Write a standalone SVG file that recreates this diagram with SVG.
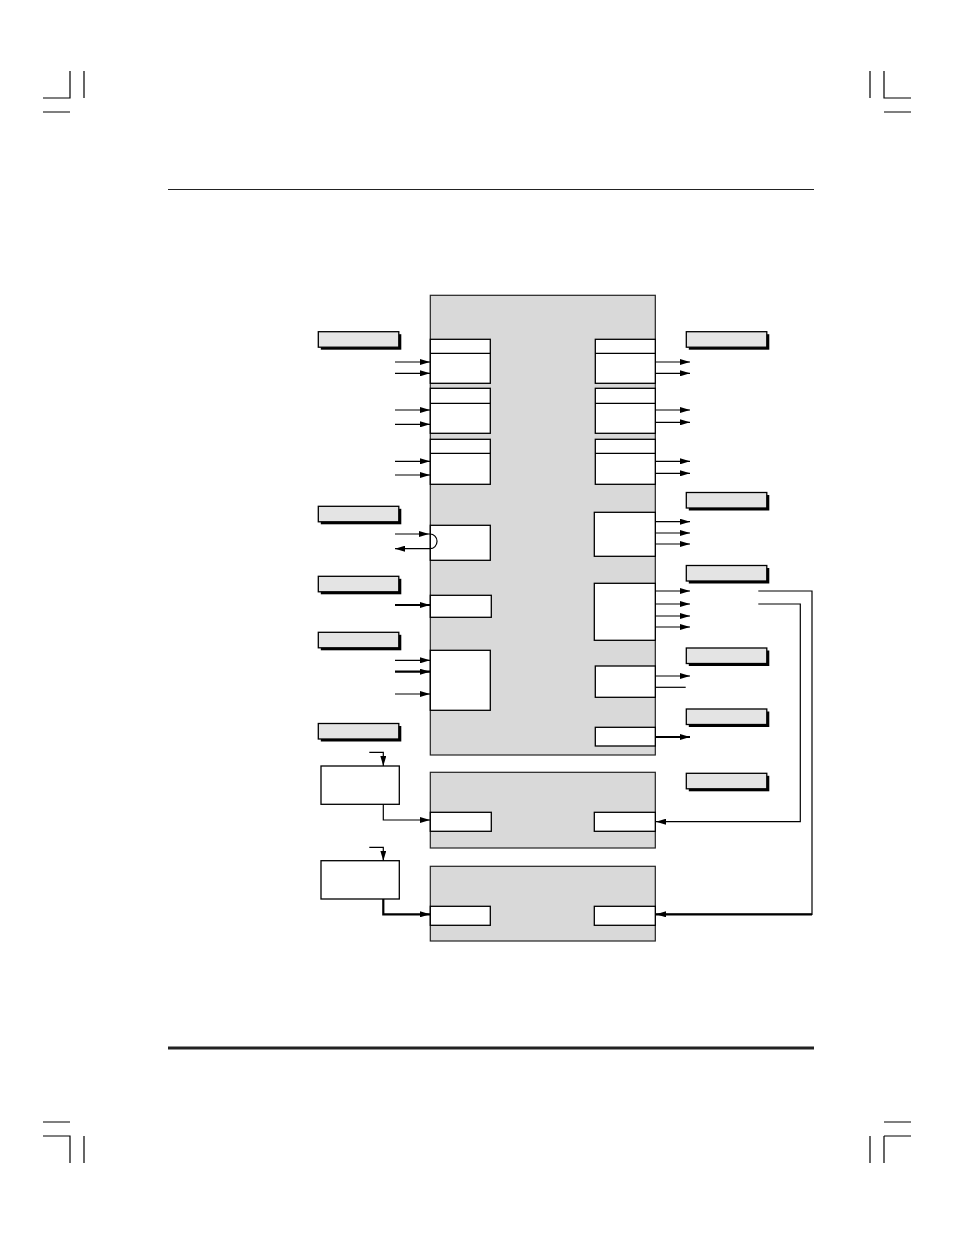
<svg xmlns="http://www.w3.org/2000/svg" width="954" height="1235" viewBox="0 0 954 1235">
<defs>
<style>
.blk{fill:#d9d9d9;stroke:#222;stroke-width:1.2}
.box{fill:#fff;stroke:#000;stroke-width:1.3}
.lbl{fill:#e4e4e4;stroke:#000;stroke-width:1.3}
.sh{fill:#000}
.ln{fill:none;stroke:#000;stroke-width:1.2}
.tk{fill:none;stroke:#000;stroke-width:2.2}
.crop{stroke:#000;stroke-width:1.2;fill:none}
</style>
<marker id="ah" viewBox="0 0 10 6" markerWidth="10" markerHeight="6" refX="10" refY="3" orient="auto" markerUnits="userSpaceOnUse">
<path d="M0,0 L10,3 L0,6 z" fill="#000"/>
</marker>
<g id="lblShape">
<rect class="sh" x="2.5" y="2.5" width="80.5" height="15.5"/>
<rect class="lbl" x="0" y="0" width="80.5" height="15.5"/>
</g>
</defs>
<rect width="954" height="1235" fill="#fff"/>
<g id="page">
<path class="crop" d="M70,71V98H43M84,71V98M43,112H70"/>
<path class="crop" d="M870,71V98M884,71V98H911M884,112H911"/>
<path class="crop" d="M43,1122H70M43,1136H70V1163M84,1136V1163"/>
<path class="crop" d="M884,1122H911M884,1136H911M884,1136V1163M870,1136V1163"/>
<line x1="168" y1="189.5" x2="814" y2="189.5" stroke="#222" stroke-width="1.2"/>
<line x1="168" y1="1048" x2="814" y2="1048" stroke="#222" stroke-width="3"/>
</g>
<g id="main-block">
<rect class="blk" x="430.3" y="295.3" width="225" height="459.7"/>
<rect class="box" x="430.3" y="339.3" width="60" height="44"/><line class="ln" x1="430.3" y1="353.3" x2="490.3" y2="353.3"/>
<rect class="box" x="430.3" y="388.3" width="60" height="45"/><line class="ln" x1="430.3" y1="403.3" x2="490.3" y2="403.3"/>
<rect class="box" x="430.3" y="439.3" width="60" height="45"/><line class="ln" x1="430.3" y1="453.3" x2="490.3" y2="453.3"/>
<rect class="box" x="430.3" y="525.3" width="60" height="35"/>
<rect class="box" x="430.3" y="595.3" width="61" height="22"/>
<rect class="box" x="430.3" y="650.3" width="60" height="60"/>
<rect class="box" x="595.3" y="339.3" width="60" height="44"/><line class="ln" x1="595.3" y1="353.3" x2="655.3" y2="353.3"/>
<rect class="box" x="595.3" y="388.3" width="60" height="45"/><line class="ln" x1="595.3" y1="403.3" x2="655.3" y2="403.3"/>
<rect class="box" x="595.3" y="439.3" width="60" height="45"/><line class="ln" x1="595.3" y1="453.3" x2="655.3" y2="453.3"/>
<rect class="box" x="594.3" y="512.3" width="61" height="44"/>
<rect class="box" x="594.3" y="583.3" width="61" height="57"/>
<rect class="box" x="595.3" y="666" width="60" height="31.3"/>
<rect class="box" x="595.3" y="727.3" width="60" height="18.7"/>
</g>
<g id="sub-block-2">
<rect class="blk" x="430.3" y="772.3" width="225" height="75.7"/>
<rect class="box" x="430.3" y="812.3" width="61" height="19"/>
<rect class="box" x="594.3" y="812.3" width="61" height="19"/>
</g>
<g id="sub-block-3">
<rect class="blk" x="430.3" y="866.3" width="225" height="74.7"/>
<rect class="box" x="430.3" y="906.3" width="60" height="19"/>
<rect class="box" x="594.3" y="906.3" width="61" height="19"/>
</g>
<g id="ext-box-a"><rect class="box" x="321" y="766" width="78.3" height="38.3"/></g>
<g id="ext-box-b"><rect class="box" x="321" y="860.7" width="78.3" height="38.3" stroke-width="2"/></g>
<g id="labels-left">
<use href="#lblShape" x="318.3" y="331.7"/>
<use href="#lblShape" x="318.3" y="506.3"/>
<use href="#lblShape" x="318.3" y="576.3"/>
<use href="#lblShape" x="318.3" y="632.3"/>
<use href="#lblShape" x="318.3" y="723.5"/>
</g>
<g id="labels-right">
<use href="#lblShape" x="686.3" y="331.7"/>
<use href="#lblShape" x="686.3" y="492.5"/>
<use href="#lblShape" x="686.3" y="565.5"/>
<use href="#lblShape" x="686.3" y="648"/>
<use href="#lblShape" x="686.3" y="709"/>
<use href="#lblShape" x="686.3" y="773.3"/>
</g>
<g id="connectors" marker-end="url(#ah)">
<path class="ln" d="M395,362H430"/>
<path class="ln" d="M395,373.3H430"/>
<path class="ln" d="M395,410H430"/>
<path class="ln" d="M395,424.3H430"/>
<path class="ln" d="M395,461.3H430"/>
<path class="ln" d="M395,475H430"/>
<path class="ln" d="M395,534H429"/>
<path class="ln" d="M429,534H430A7,7.3 0 0 1 430,548.7H395"/>
<path class="tk" d="M395,605H430"/>
<path class="ln" d="M395,660.3H430"/>
<path class="tk" d="M395,671.7H430"/>
<path class="ln" d="M395,694H430"/>
<path class="ln" d="M655.3,362H690"/>
<path class="ln" d="M655.3,373.3H690"/>
<path class="ln" d="M655.3,410H690"/>
<path class="ln" d="M655.3,422.3H690"/>
<path class="ln" d="M655.3,461.3H690"/>
<path class="ln" d="M655.3,473.3H690"/>
<path class="ln" d="M655.3,521.7H690"/>
<path class="ln" d="M655.3,533H690"/>
<path class="ln" d="M655.3,544H690"/>
<path class="ln" d="M655.3,591H690"/>
<path class="ln" d="M655.3,604H690"/>
<path class="ln" d="M655.3,616H690"/>
<path class="ln" d="M655.3,627H690"/>
<path class="ln" d="M655.3,676H690"/>
<path class="ln" d="M655.3,687.3H685.7" marker-end="none"/>
<path class="tk" d="M655.3,737H690"/>
<path class="ln" d="M758.3,591H812V914.3H655.5" marker-end="none"/>
<path class="tk" d="M812,914.3H656"/>
<path class="ln" d="M758.3,604H800.3V821.7H656"/>
<path class="ln" d="M369.3,752.3H383.3V766"/>
<path class="ln" d="M383.3,804.3V820H430"/>
<path class="ln" d="M369.3,847.3H383.3V860.7"/>
<path class="tk" d="M383.3,899V914.3H430"/>
</g>
</svg>
